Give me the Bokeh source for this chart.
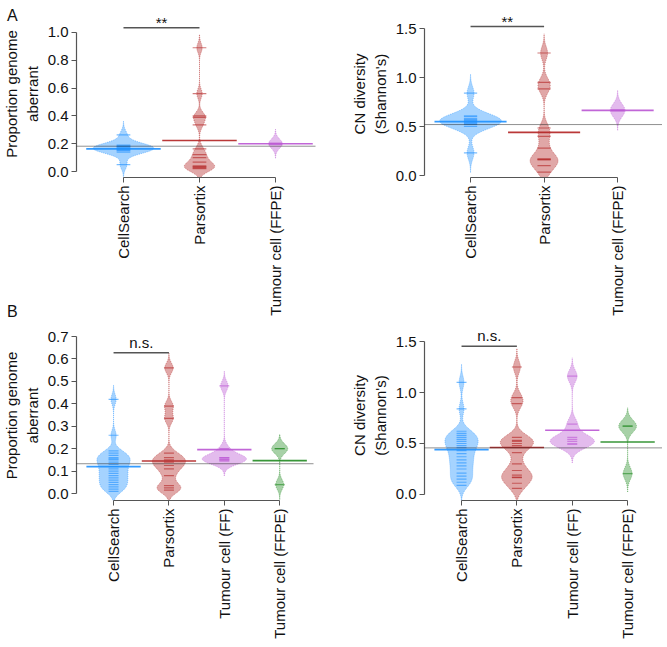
import numpy as np
from bokeh.plotting import figure
from bokeh.models import FixedTicker, PrintfTickFormatter, Span, Div
from bokeh.layouts import column, row
from bokeh.embed import file_html
from bokeh.resources import INLINE
from bokeh.core.properties import value

# ---------------- data ----------------
groups_a = ["CellSearch", "Parsortix", "Tumour cell (FFPE)"]
groups_b = ["CellSearch", "Parsortix", "Tumour cell (FF)", "Tumour cell (FFPE)"]

# Panel A, left: proportion genome aberrant
a1_cellsearch = [0.05, 0.14, 0.15, 0.155, 0.16, 0.165, 0.17, 0.175, 0.18, 0.185, 0.19, 0.264]
a1_parsortix = [0.02, 0.025, 0.03, 0.036, 0.04, 0.067, 0.10, 0.122, 0.163, 0.336, 0.39, 0.40, 0.56, 0.89]
a1_ffpe = [0.195, 0.205]
a1_means = [0.163, 0.223, 0.20]
a1_overall = 0.182

# Panel A, right: CN diversity
a2_cellsearch = [0.23, 0.50, 0.52, 0.53, 0.54, 0.55, 0.56, 0.57, 0.58, 0.60, 0.61, 0.84]
a2_parsortix = [0.034, 0.10, 0.16, 0.165, 0.17, 0.28, 0.40, 0.485, 0.885, 0.95, 1.25]
a2_ffpe = [0.66, 0.67]
a2_means = [0.55, 0.44, 0.665]
a2_overall = 0.52

# Panel B, left: proportion genome aberrant
b1_cellsearch = [0.01, 0.02, 0.03, 0.04, 0.05, 0.06, 0.07, 0.08, 0.09, 0.10, 0.11, 0.12,
                 0.13, 0.14, 0.15, 0.155, 0.16, 0.17, 0.18, 0.19, 0.26, 0.42]
b1_parsortix = [0.015, 0.025, 0.035, 0.08, 0.11, 0.125, 0.14, 0.15, 0.16, 0.18, 0.335, 0.39, 0.56]
b1_ff = [0.145, 0.15, 0.15, 0.155, 0.16, 0.16, 0.20, 0.48]
b1_ffpe = [0.04, 0.20, 0.20]
b1_means = [0.12, 0.145, 0.196, 0.147]
b1_overall = 0.133

# Panel B, right: CN diversity
b2_cellsearch = [0.09, 0.12, 0.15, 0.18, 0.21, 0.25, 0.28, 0.31, 0.34, 0.37, 0.40, 0.43,
                 0.46, 0.48, 0.50, 0.52, 0.54, 0.56, 0.58, 0.60, 0.62, 0.84, 1.10]
b2_parsortix = [0.06, 0.11, 0.165, 0.17, 0.19, 0.235, 0.30, 0.41, 0.48, 0.50, 0.52, 0.53,
                0.56, 0.89, 0.95, 1.25]
b2_ff = [0.49, 0.50, 0.52, 0.54, 0.56, 0.69, 1.16]
b2_ffpe = [0.205, 0.67, 0.67]
b2_means = [0.44, 0.46, 0.63, 0.515]
b2_overall = 0.457

yticks_prop_a = [0.0, 0.2, 0.4, 0.6, 0.8, 1.0]
yticks_prop_b = [0.0, 0.1, 0.2, 0.3, 0.4, 0.5, 0.6, 0.7]
yticks_cn = [0.0, 0.5, 1.0, 1.5]

# significance brackets: (group i, group j, level, label)
a1_sig = (1, 2, 1.034, "**")
a2_sig = (1, 2, 1.52, "**")
b1_sig = (1, 2, 0.628, "n.s.")
b2_sig = (1, 2, 1.454, "n.s.")

panel_letters = ["A", "B"]

# ---------------- styling ----------------
FONT = "Liberation Sans"
BLUE = "#1E90FF"
RED = "#B22222"
PURPLE = "#BA55D3"
GREEN = "#228B22"
AXIS = "#555555"

# maximum half-width of each bean (category units), as drawn in the figure
a1_widths = [0.40, 0.20, 0.09]
a2_widths = [0.42, 0.19, 0.10]
b1_widths = [0.30, 0.30, 0.40, 0.145]
b2_widths = [0.30, 0.30, 0.40, 0.16]


def bean_panel(groups, series, means, overall, colors, widths, bw, yticks, ylabel, sig,
               xr, yr, fw, fh, mbl, mbr, mbt, mbb):
    p = figure(output_backend="svg", toolbar_location=None,
               frame_width=fw, frame_height=fh,
               min_border_left=mbl, min_border_right=mbr,
               min_border_top=mbt, min_border_bottom=mbb,
               x_range=xr, y_range=yr)
    p.outline_line_color = None
    p.xgrid.visible = False
    p.ygrid.visible = False
    p.background_fill_color = "white"
    p.border_fill_color = "white"

    for i, (vals, col, w) in enumerate(zip(series, colors, widths)):
        c = i + 1
        v = np.asarray(vals, dtype=float)
        yy = np.linspace(v.min() - 3 * bw, v.max() + 3 * bw, 300)
        d = np.exp(-0.5 * ((yy[:, None] - v[None, :]) / bw) ** 2).sum(axis=1)
        half = d / d.max() * w
        p.harea(x1=c - half, x2=c + half, y=yy, fill_color=col, fill_alpha=0.40)
        p.line(c - half, yy, line_color=col, line_alpha=0.45, line_width=1, line_dash="1 1")
        p.line(c + half, yy, line_color=col, line_alpha=0.45, line_width=1, line_dash="1 1")
        p.segment(x0=c - 0.09, x1=c + 0.09, y0=v, y1=v, line_color=col, line_alpha=0.6, line_width=1.2)
        p.segment(x0=[c - 0.49], x1=[c + 0.49], y0=[means[i]], y1=[means[i]],
                  line_color=col, line_width=1.6, line_alpha=0.9)

    p.add_layout(Span(location=overall, dimension="width", line_color="#222222",
                      line_dash="1 1", line_width=1))

    gi, gj, lvl, txt = sig
    p.segment(x0=[gi], x1=[gj], y0=[lvl], y1=[lvl], line_color=AXIS, line_width=1.5)
    p.text(x=[(gi + gj) / 2], y=[lvl], text=[txt], text_align="center", text_baseline="bottom",
           text_font=value(FONT), text_font_size="15px", text_color="#111111",
           y_offset=3 if txt == "**" else -2)

    # axes
    p.xaxis.ticker = FixedTicker(ticks=list(range(1, len(groups) + 1)))
    p.xaxis.major_label_overrides = {i + 1: g for i, g in enumerate(groups)}
    p.xaxis.major_label_orientation = np.pi / 2
    p.xaxis.bounds = (1, len(groups))
    p.yaxis.ticker = FixedTicker(ticks=yticks)
    p.yaxis.formatter = PrintfTickFormatter(format="%.1f")
    p.yaxis.bounds = (yticks[0], yticks[-1])
    p.yaxis.axis_label = ylabel
    for ax in (p.xaxis[0], p.yaxis[0]):
        ax.axis_line_color = AXIS
        ax.axis_line_width = 1.2
        ax.major_tick_line_color = AXIS
        ax.major_tick_out = 5
        ax.major_tick_in = 0
        ax.minor_tick_line_color = None
        ax.major_label_text_font = FONT
        ax.major_label_text_font_size = "15px"
        ax.major_label_text_color = "#111111"
        ax.major_label_standoff = 3
        ax.axis_label_text_font = FONT
        ax.axis_label_text_font_size = "15px"
        ax.axis_label_text_font_style = "normal"
        ax.axis_label_text_color = "#111111"
        ax.axis_label_standoff = 4
    return p


pa1 = bean_panel(groups_a, [a1_cellsearch, a1_parsortix, a1_ffpe], a1_means, a1_overall,
                 [BLUE, RED, PURPLE], a1_widths, 0.033, yticks_prop_a, "Proportion genome\naberrant", a1_sig,
                 (0.382, 3.526), (-0.043, 1.158), 239, 167, 73, 33, 10, 145)
pa2 = bean_panel(groups_a, [a2_cellsearch, a2_parsortix, a2_ffpe], a2_means, a2_overall,
                 [BLUE, RED, PURPLE], a2_widths, 0.066, yticks_cn, "CN diversity\n(Shannon's)", a2_sig,
                 (0.374, 3.61), (-0.0204, 1.684), 238, 167, 74, 2, 10, 145)
pb1 = bean_panel(groups_b, [b1_cellsearch, b1_parsortix, b1_ff, b1_ffpe], b1_means, b1_overall,
                 [BLUE, RED, PURPLE, GREEN], b1_widths, 0.022, yticks_prop_b, "Proportion genome\naberrant", b1_sig,
                 (0.331, 4.61), (-0.031, 0.727), 237, 170, 73, 35, 8, 139)
pb2 = bean_panel(groups_b, [b2_cellsearch, b2_parsortix, b2_ff, b2_ffpe], b2_means, b2_overall,
                 [BLUE, RED, PURPLE, GREEN], b2_widths, 0.06, yticks_cn, "CN diversity\n(Shannon's)", b2_sig,
                 (0.331, 4.63), (-0.059, 1.608), 238, 170, 72, 4, 8, 139)

letter_divs = []
for letter, top in zip(panel_letters, [2, 298]):
    letter_divs.append(Div(text=letter, styles={
        "position": "absolute", "left": "2px", "top": f"{top}px",
        "font-family": "Liberation Sans", "font-size": "16px", "color": "#111111",
        "line-height": "18px", "z-index": "10"}))

layout = column(row(pa1, pa2), row(pb1, pb2), *letter_divs)

open("out.html", "w").write(file_html(layout, INLINE))
